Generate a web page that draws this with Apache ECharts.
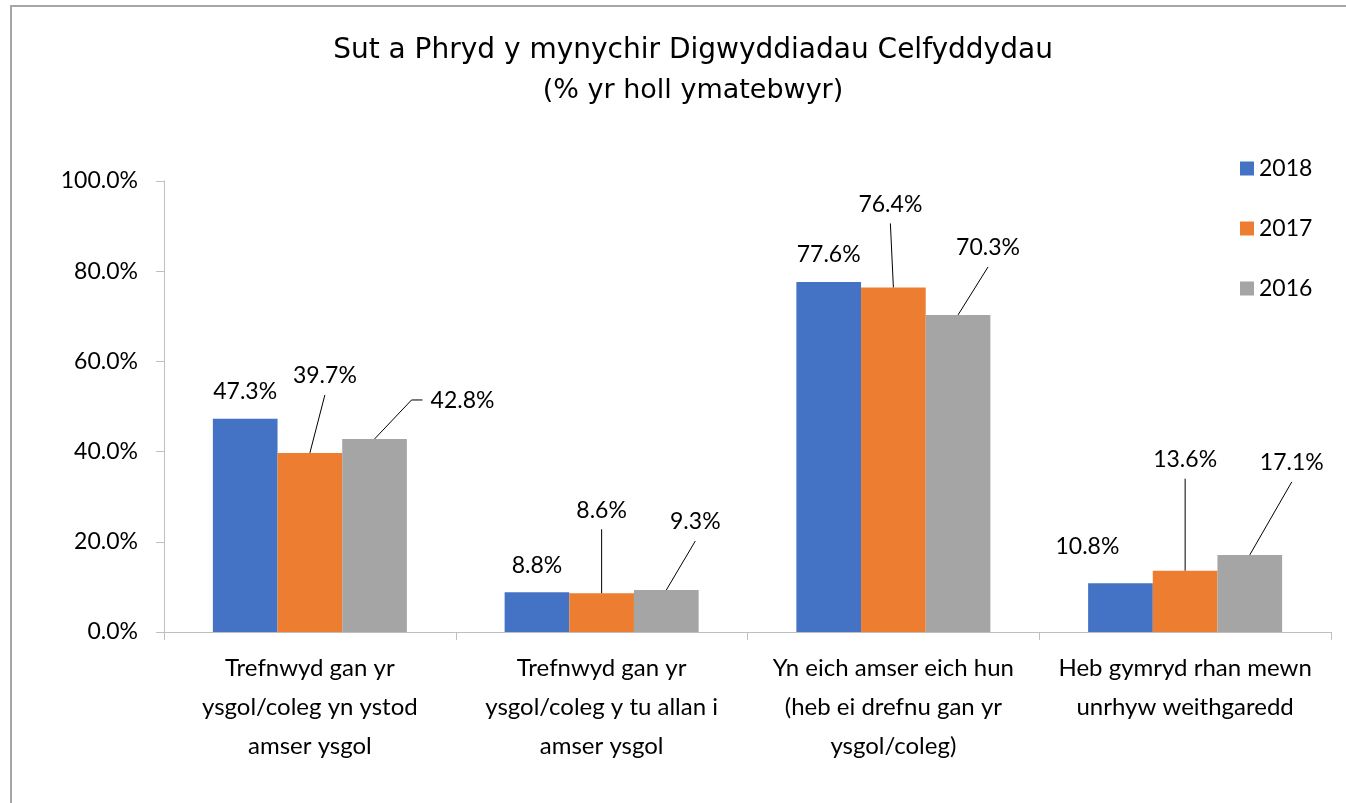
<!DOCTYPE html>
<html>
<head>
    <meta charset="UTF-8">
    <script src="https://cdn.jsdelivr.net/npm/echarts@6/dist/echarts.min.js"></script>
    <style>
        html, body { margin: 0; padding: 0; background: #ffffff; }
        #chart { width: 1346px; height: 803px; }
    </style>
    <title>Celfyddydau</title>
</head>
<body>
    <div id="chart"></div>
    <script>
        // data
        var categories = [
            'Trefnwyd gan yr\nysgol/coleg yn ystod\namser ysgol',
            'Trefnwyd gan yr\nysgol/coleg y tu allan i\namser ysgol',
            'Yn eich amser eich hun\n(heb ei drefnu gan yr\nysgol/coleg)',
            'Heb gymryd rhan mewn\nunrhyw weithgaredd'
        ];
        var years = ['2018', '2017', '2016'];
        var v2018 = [47.3, 8.8, 77.6, 10.8];
        var v2017 = [39.7, 8.6, 76.4, 13.6];
        var v2016 = [42.8, 9.3, 70.3, 17.1];
        var yTicks = [0, 20, 40, 60, 80, 100];

        // label placement (pixels, relative to the default spot above each bar)
        var labelShift = [
            [[0, 0], [0, 0], [0, 0], [-33, -10]],
            [[15, -50], [0, -56], [-3, -56], [0, -84]],
            [[88, -11], [29, -41], [30, -40], [42, -65]]
        ];
        // 0 = no leader line, 1 = straight, 2 = with elbow
        var leaderKind = [
            [0, 0, 0, 0],
            [1, 1, 1, 1],
            [2, 1, 1, 1]
        ];
        var colors = ['#4472C4', '#ED7D31', '#A5A5A5'];
        var gapRatio = 0.335;

        var allValues = [v2018, v2017, v2016];
        var leaderData = [];
        allValues.forEach(function (vals, s) {
            vals.forEach(function (v, i) {
                if (leaderKind[s][i]) leaderData.push([i, v, s, leaderKind[s][i]]);
            });
        });

        var myChart = echarts.init(document.getElementById('chart'), null, { renderer: 'canvas' });

        var barSeries = allValues.map(function (vals, s) {
            return {
                name: years[s],
                type: 'bar',
                data: vals,
                barGap: '0%',
                barCategoryGap: (gapRatio * 100) + '%',
                itemStyle: { color: colors[s] },
                label: {
                    show: true,
                    position: 'top',
                    color: '#000',
                    fontSize: 23,
                    fontFamily: 'Lato',
                    formatter: function (p) { return p.value.toFixed(1) + '%'; }
                },
                labelLayout: function (p) {
                    var sh = labelShift[p.seriesIndex][p.dataIndex];
                    return {
                        x: p.rect.x + p.rect.width / 2 + sh[0],
                        y: p.rect.y - 27 + sh[1],
                        align: 'center',
                        verticalAlign: 'middle'
                    };
                },
                animation: false
            };
        });

        var leaderSeries = {
            type: 'custom',
            name: 'leaders',
            data: leaderData,
            silent: true,
            z: 5,
            renderItem: function (params, api) {
                var i = api.value(0), v = api.value(1), s = api.value(2), kind = api.value(3);
                var top = api.coord([i, v]);
                var band = api.size([1, 0])[0];
                var barW = band * (1 - gapRatio) / 3;
                var bx = top[0] + (s - 1) * barW;
                var sh = labelShift[s][i];
                var lx = bx + sh[0], ly = top[1] - 27 + sh[1];
                var pts = kind === 2
                    ? [[bx, top[1]], [lx - 51, ly - 1], [lx - 40, ly - 1]]
                    : [[bx, top[1]], [lx, ly + 19]];
                return {
                    type: 'polyline',
                    shape: { points: pts },
                    style: { stroke: '#000', lineWidth: 1, fill: null }
                };
            },
            animation: false
        };

        var option = {
            backgroundColor: '#ffffff',
            animation: false,
            title: [{
                text: 'Sut a Phryd y mynychir Digwyddiadau Celfyddydau',
                left: 688,
                top: 32,
                textAlign: 'center',
                textStyle: { fontFamily: 'DejaVu Sans', fontSize: 28, fontWeight: 'normal', color: '#000' }
            }, {
                text: '(% yr holl ymatebwyr)',
                left: 688,
                top: 72,
                textAlign: 'center',
                textStyle: { fontFamily: 'DejaVu Sans', fontSize: 27, fontWeight: 'normal', color: '#000' }
            }],
            legend: {
                data: years,
                orient: 'vertical',
                left: 1240,
                top: 157,
                padding: 0,
                itemWidth: 14,
                itemHeight: 14,
                itemGap: 37,
                icon: 'rect',
                textStyle: { fontFamily: 'Lato', fontSize: 23, color: '#000' }
            },
            grid: {
                left: 164,
                right: 15,
                top: 181,
                bottom: 171,
                outerBoundsMode: 'none'
            },
            xAxis: {
                type: 'category',
                data: categories,
                axisLine: { show: true, lineStyle: { color: '#BFBFBF', width: 1 } },
                axisTick: { show: true, length: 8, lineStyle: { color: '#BFBFBF' } },
                axisLabel: {
                    interval: 0,
                    margin: 17,
                    color: '#000',
                    fontFamily: 'Lato',
                    fontSize: 24,
                    lineHeight: 39,
                    align: 'center'
                }
            },
            yAxis: {
                type: 'value',
                min: yTicks[0],
                max: yTicks[yTicks.length - 1],
                interval: yTicks[1] - yTicks[0],
                axisLine: { show: true, lineStyle: { color: '#BFBFBF', width: 1 } },
                axisTick: { show: true, length: 8, lineStyle: { color: '#BFBFBF' } },
                splitLine: { show: false },
                axisLabel: {
                    margin: 26,
                    color: '#000',
                    fontFamily: 'Lato',
                    fontSize: 23,
                    formatter: function (v) { return v.toFixed(1) + '%'; }
                }
            },
            graphic: [{
                type: 'rect',
                shape: { x: 11, y: 6, width: 1400, height: 900 },
                style: { fill: null, stroke: '#A6A6A6', lineWidth: 2 },
                silent: true
            }],
            series: barSeries.concat([leaderSeries])
        };

        myChart.setOption(option);
        window.addEventListener('resize', myChart.resize);
    </script>
</body>
</html>
